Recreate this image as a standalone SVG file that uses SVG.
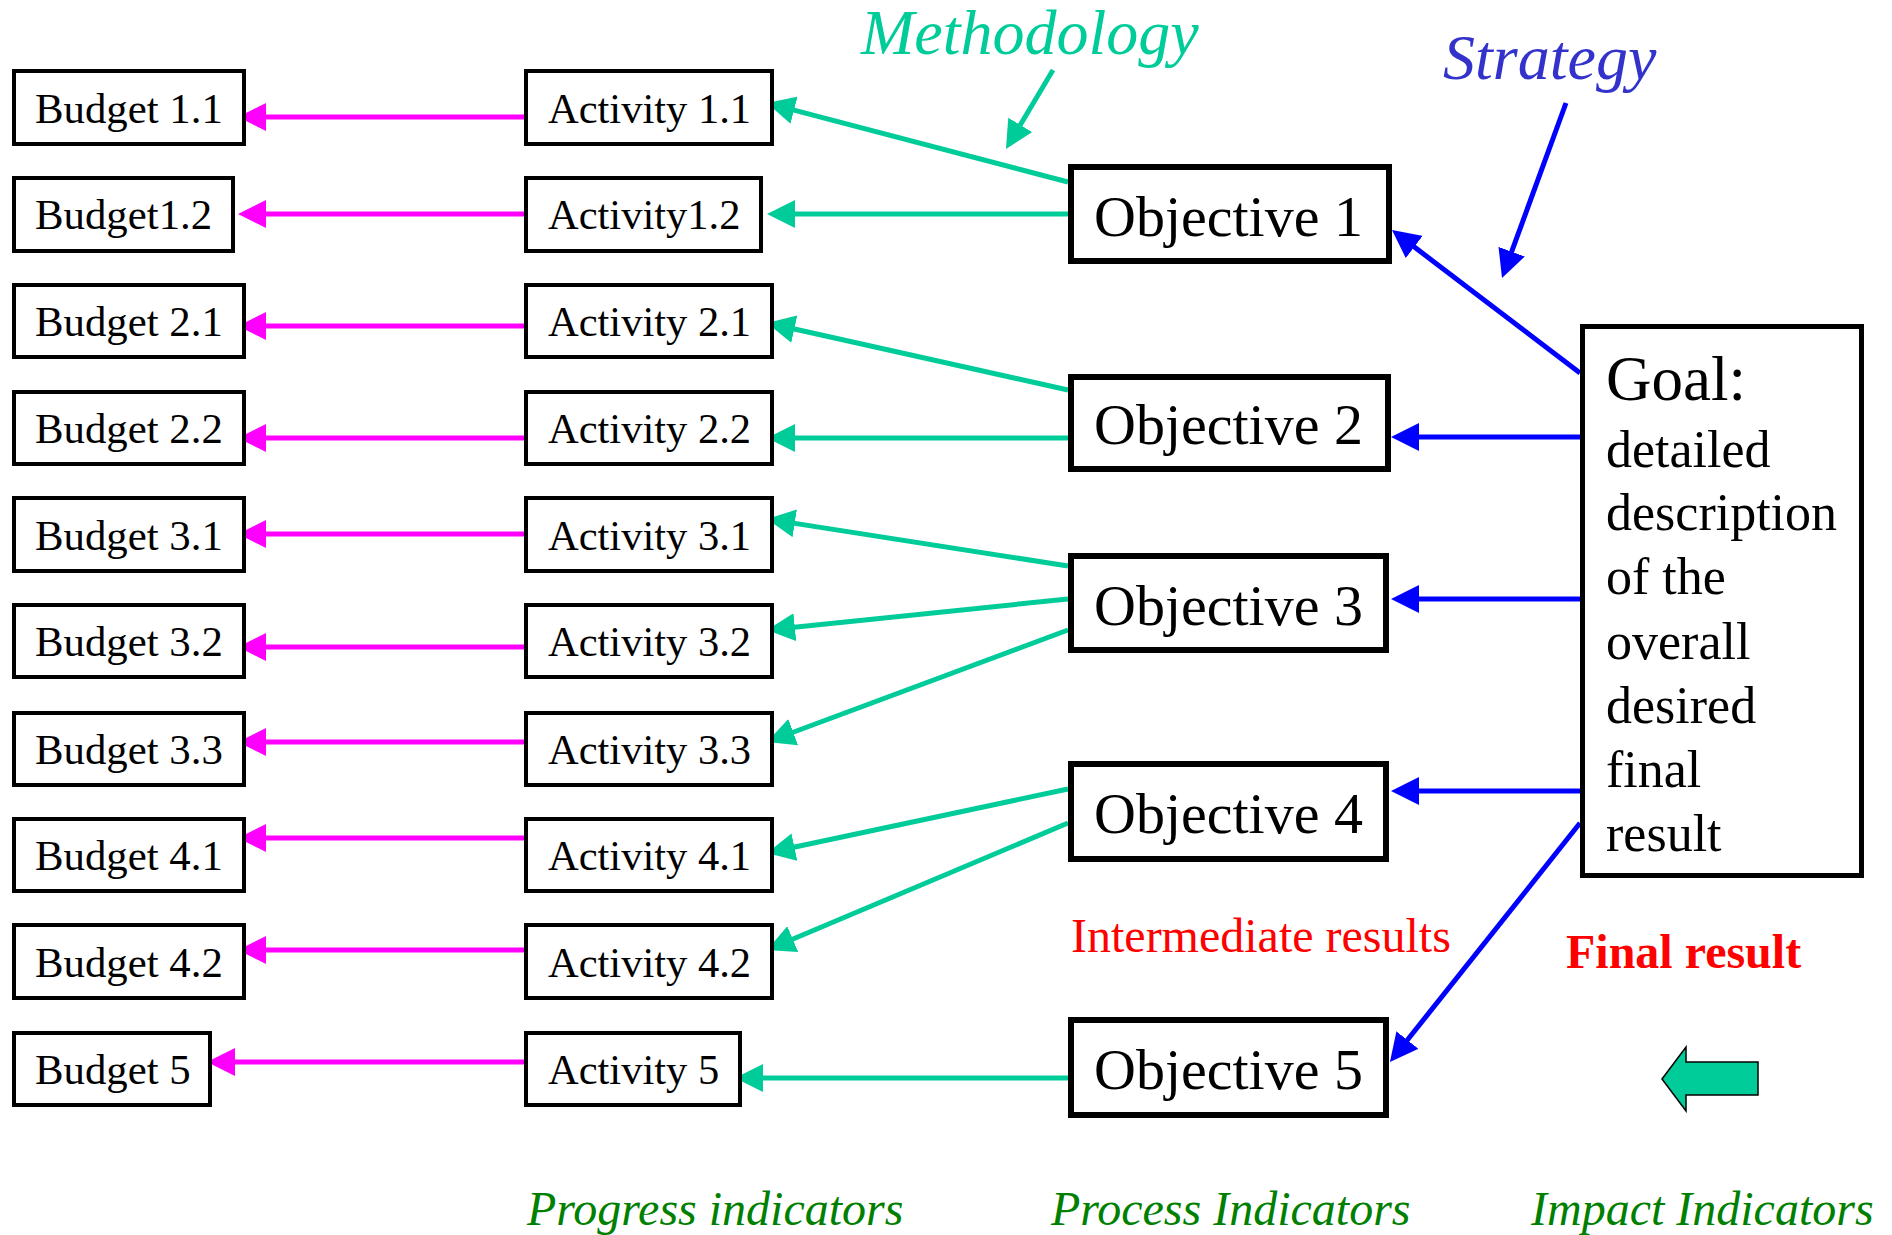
<svg xmlns="http://www.w3.org/2000/svg" width="1892" height="1235" viewBox="0 0 1892 1235">
<style>
.box{fill:#fff;stroke:#000;stroke-width:4}
.obj{fill:#fff;stroke:#000;stroke-width:6}
.goal{fill:#fff;stroke:#000;stroke-width:5}
.t{font-family:"Liberation Serif","Times New Roman",serif;fill:#000}
.bt{font-size:42.8px}
.at{font-size:42.5px}
.ot{font-size:58px}
.gl{font-size:52px}
.mag{stroke:#FF00FF;stroke-width:5;fill:none}
.teal{stroke:#00CC99;stroke-width:5;fill:none}
.blue{stroke:#0000FF;stroke-width:5;fill:none}
.it{font-family:"Liberation Serif","Times New Roman",serif;font-style:italic}
</style>
<defs>
<marker id="mM" markerUnits="userSpaceOnUse" markerWidth="28" markerHeight="28" refX="8" refY="14" orient="auto" viewBox="0 0 28 28"><path d="M0,0 L28,14 L0,28 z" fill="#FF00FF"/></marker>
<marker id="mT" markerUnits="userSpaceOnUse" markerWidth="28" markerHeight="28" refX="8" refY="14" orient="auto" viewBox="0 0 28 28"><path d="M0,0 L28,14 L0,28 z" fill="#00CC99"/></marker>
<marker id="mB" markerUnits="userSpaceOnUse" markerWidth="28" markerHeight="28" refX="8" refY="14" orient="auto" viewBox="0 0 28 28"><path d="M0,0 L28,14 L0,28 z" fill="#0000FF"/></marker>
</defs>
<rect width="1892" height="1235" fill="#fff"/>

<g id="connectors">
<line class="mag" x1="525" y1="117" x2="258" y2="117" marker-end="url(#mM)"/>
<line class="mag" x1="525" y1="214" x2="258" y2="214" marker-end="url(#mM)"/>
<line class="mag" x1="525" y1="326" x2="258" y2="326" marker-end="url(#mM)"/>
<line class="mag" x1="525" y1="438" x2="258" y2="438" marker-end="url(#mM)"/>
<line class="mag" x1="525" y1="534" x2="258" y2="534" marker-end="url(#mM)"/>
<line class="mag" x1="525" y1="647" x2="258" y2="647" marker-end="url(#mM)"/>
<line class="mag" x1="525" y1="742" x2="258" y2="742" marker-end="url(#mM)"/>
<line class="mag" x1="525" y1="838" x2="258" y2="838" marker-end="url(#mM)"/>
<line class="mag" x1="525" y1="950" x2="258" y2="950" marker-end="url(#mM)"/>
<line class="mag" x1="525" y1="1062" x2="227" y2="1062" marker-end="url(#mM)"/>

<line class="teal" x1="1068" y1="182" x2="786.3" y2="108.1" marker-end="url(#mT)"/>
<line class="teal" x1="1068" y1="214" x2="787" y2="214" marker-end="url(#mT)"/>
<line class="teal" x1="1068" y1="390" x2="786.5" y2="327.3" marker-end="url(#mT)"/>
<line class="teal" x1="1068" y1="438" x2="787" y2="438" marker-end="url(#mT)"/>
<line class="teal" x1="1068" y1="566" x2="786.8" y2="522.1" marker-end="url(#mT)"/>
<line class="teal" x1="1068" y1="599" x2="786.9" y2="627.95" marker-end="url(#mT)"/>
<line class="teal" x1="1068" y1="630" x2="785.7" y2="735" marker-end="url(#mT)"/>
<line class="teal" x1="1068" y1="789" x2="786.6" y2="848.8" marker-end="url(#mT)"/>
<line class="teal" x1="1068" y1="823" x2="785.4" y2="942.2" marker-end="url(#mT)"/>
<line class="teal" x1="1068" y1="1078" x2="755" y2="1078" marker-end="url(#mT)"/>
<line class="teal" x1="1053" y1="70" x2="1016.2" y2="131.8" marker-end="url(#mT)"/>

<line class="blue" x1="1580" y1="373" x2="1407.9" y2="242.1" marker-end="url(#mB)"/>
<line class="blue" x1="1580" y1="437" x2="1411" y2="437" marker-end="url(#mB)"/>
<line class="blue" x1="1580" y1="599" x2="1411" y2="599" marker-end="url(#mB)"/>
<line class="blue" x1="1580" y1="791" x2="1411" y2="791" marker-end="url(#mB)"/>
<line class="blue" x1="1580" y1="823" x2="1402.4" y2="1046.3" marker-end="url(#mB)"/>
<line class="blue" x1="1566" y1="103" x2="1508.9" y2="259.2" marker-end="url(#mB)"/>
</g>

<g id="budget-1-1"><rect class="box" x="14" y="71" width="230" height="73"/><text class="t bt" x="35" y="123">Budget 1.1</text></g>
<g id="budget-1-2"><rect class="box" x="14" y="178" width="219" height="73"/><text class="t bt" x="35" y="229">Budget1.2</text></g>
<g id="budget-2-1"><rect class="box" x="14" y="285" width="230" height="72"/><text class="t bt" x="35" y="336">Budget 2.1</text></g>
<g id="budget-2-2"><rect class="box" x="14" y="392" width="230" height="72"/><text class="t bt" x="35" y="443">Budget 2.2</text></g>
<g id="budget-3-1"><rect class="box" x="14" y="498" width="230" height="73"/><text class="t bt" x="35" y="550">Budget 3.1</text></g>
<g id="budget-3-2"><rect class="box" x="14" y="605" width="230" height="72"/><text class="t bt" x="35" y="656">Budget 3.2</text></g>
<g id="budget-3-3"><rect class="box" x="14" y="713" width="230" height="72"/><text class="t bt" x="35" y="764">Budget 3.3</text></g>
<g id="budget-4-1"><rect class="box" x="14" y="819" width="230" height="72"/><text class="t bt" x="35" y="870">Budget 4.1</text></g>
<g id="budget-4-2"><rect class="box" x="14" y="925" width="230" height="73"/><text class="t bt" x="35" y="977">Budget 4.2</text></g>
<g id="budget-5"><rect class="box" x="14" y="1033" width="196" height="72"/><text class="t bt" x="35" y="1084">Budget 5</text></g>

<g id="activity-1-1"><rect class="box" x="526" y="71" width="246" height="73"/><text class="t at" x="548" y="123">Activity 1.1</text></g>
<g id="activity-1-2"><rect class="box" x="526" y="178" width="235" height="73"/><text class="t at" x="548" y="229">Activity1.2</text></g>
<g id="activity-2-1"><rect class="box" x="526" y="285" width="246" height="72"/><text class="t at" x="548" y="336">Activity 2.1</text></g>
<g id="activity-2-2"><rect class="box" x="526" y="392" width="246" height="72"/><text class="t at" x="548" y="443">Activity 2.2</text></g>
<g id="activity-3-1"><rect class="box" x="526" y="498" width="246" height="73"/><text class="t at" x="548" y="550">Activity 3.1</text></g>
<g id="activity-3-2"><rect class="box" x="526" y="605" width="246" height="72"/><text class="t at" x="548" y="656">Activity 3.2</text></g>
<g id="activity-3-3"><rect class="box" x="526" y="713" width="246" height="72"/><text class="t at" x="548" y="764">Activity 3.3</text></g>
<g id="activity-4-1"><rect class="box" x="526" y="819" width="246" height="72"/><text class="t at" x="548" y="870">Activity 4.1</text></g>
<g id="activity-4-2"><rect class="box" x="526" y="925" width="246" height="73"/><text class="t at" x="548" y="977">Activity 4.2</text></g>
<g id="activity-5"><rect class="box" x="526" y="1033" width="214" height="72"/><text class="t at" x="548" y="1084">Activity 5</text></g>

<g id="objective-1"><rect class="obj" x="1071" y="167" width="318" height="94"/><text class="t ot" x="1094" y="236">Objective 1</text></g>
<g id="objective-2"><rect class="obj" x="1071" y="377" width="317" height="92"/><text class="t ot" x="1094" y="444">Objective 2</text></g>
<g id="objective-3"><rect class="obj" x="1071" y="556" width="315" height="94"/><text class="t ot" x="1094" y="625">Objective 3</text></g>
<g id="objective-4"><rect class="obj" x="1071" y="764" width="315" height="95"/><text class="t ot" x="1094" y="833">Objective 4</text></g>
<g id="objective-5"><rect class="obj" x="1071" y="1020" width="315" height="95"/><text class="t ot" x="1094" y="1089">Objective 5</text></g>

<g id="goal"><rect class="goal" x="1582.5" y="326.5" width="279" height="549"/>
<text class="t" x="1606" y="400" font-size="63">Goal:</text>
<text class="t gl" x="1606" y="467">detailed</text>
<text class="t gl" x="1606" y="530">description</text>
<text class="t gl" x="1606" y="594">of the</text>
<text class="t gl" x="1606" y="659">overall</text>
<text class="t gl" x="1606" y="723">desired</text>
<text class="t gl" x="1606" y="787">final</text>
<text class="t gl" x="1606" y="851">result</text>
</g>

<g id="labels">
<text class="it" x="861" y="54" font-size="64" fill="#00CC99">Methodology</text>
<text class="it" x="1443" y="79" font-size="64" fill="#3333CC">Strategy</text>
<text class="t" x="1071" y="952" font-size="48" style="fill:#FF0000">Intermediate results</text>
<text class="t" x="1566" y="968" font-size="48" font-weight="bold" style="fill:#FF0000">Final result</text>
<text class="it" x="527" y="1225" font-size="48" fill="#008000">Progress indicators</text>
<text class="it" x="1051" y="1225" font-size="48" fill="#008000">Process Indicators</text>
<text class="it" x="1531" y="1225" font-size="48" fill="#008000">Impact Indicators</text>
</g>

<g id="block-arrow"><polygon points="1662,1079 1686,1047 1686,1062 1758,1062 1758,1095 1686,1095 1686,1111" fill="#00CC99" stroke="#000" stroke-width="1.5"/></g>
</svg>
